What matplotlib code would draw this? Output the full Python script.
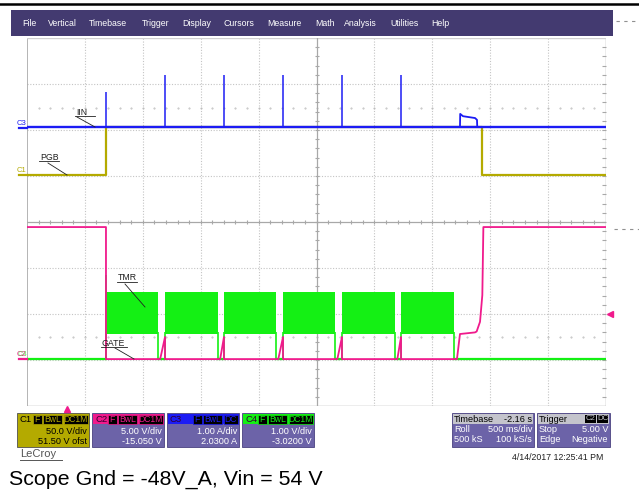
import numpy as np
import matplotlib.pyplot as plt
from matplotlib.patches import Rectangle

plt.rcParams['font.family'] = ['Liberation Sans', 'DejaVu Sans']

# ---------- trace data (time in s, level in screen divisions, 0 = bottom of grid) ----------
T_DIV = 0.5            # 500 ms/div
N_XDIV, N_YDIV = 10, 8

# C3 IIN (blue)
iin_base = 6.07
iin_spike_t = [0.682, 1.192, 1.701, 2.211, 2.720, 3.230]
iin_spike_top = [6.83, 7.20, 7.20, 7.20, 7.20, 7.20]
iin_bump_t = [3.739, 3.741, 3.765, 3.869, 3.886, 3.888]
iin_bump_v = [6.07, 6.35, 6.30, 6.26, 6.22, 6.07]

# C1 PGB (olive)
pgb_t = [0.0, 0.682, 0.682, 3.929, 3.929, 5.0]
pgb_v = [5.02, 5.02, 6.07, 6.07, 5.02, 5.02]

# C4 TMR (green) bursts
tmr_base = 1.02
tmr_on = [0.682, 1.192, 1.701, 2.211, 2.720, 3.230]
tmr_off = [1.131, 1.649, 2.150, 2.660, 3.178, 3.687]
tmr_lo, tmr_hi = 1.565, 2.48
tmr_kick = 2.85

# C2 GATE (pink)
gate_t = [0.0, 0.682, 0.682,
          1.150, 1.192, 1.192,
          1.668, 1.701, 1.701,
          2.170, 2.211, 2.211,
          2.680, 2.720, 2.720,
          3.198, 3.230, 3.230,
          3.713, 3.739, 3.869, 3.883, 3.912, 3.932, 3.941, 5.0]
gate_v = [3.89, 3.89, 1.02,
          1.02, 1.50, 1.02,
          1.02, 1.50, 1.02,
          1.02, 1.50, 1.02,
          1.02, 1.50, 1.02,
          1.02, 1.50, 1.02,
          1.02, 1.565, 1.60, 1.62, 1.83, 2.41, 3.89, 3.89]

# ---------- text content ----------
menu_items = ['File', 'Vertical', 'Timebase', 'Trigger', 'Display', 'Cursors',
              'Measure', 'Math', 'Analysis', 'Utilities', 'Help']
menu_x = [22, 48, 89, 142, 182, 224, 267, 315, 344, 390, 431]

ch_names = ['C1', 'C2', 'C3', 'C4']
ch_badges = [['F', 'BwL', 'DC1M'], ['F', 'BwL', 'DC1M'], ['F', 'BwL', 'DC'], ['F', 'BwL', 'DC1M']]
ch_scale = ['50.0 V/div', '5.00 V/div', '1.00 A/div', '1.00 V/div']
ch_offset = ['51.50 V ofst', '-15.050 V', '2.0300 A', '-3.0200 V']

C1_COL = '#b4aa00'
C2_COL = '#f01a8c'
C3_COL = '#1c1cf4'
C4_COL = '#14f014'
ch_cols = [C1_COL, C2_COL, C3_COL, C4_COL]
PURPLE = '#433a70'
BOXBG = '#6c63a8'

W, H = 639, 491
fig = plt.figure(figsize=(W / 100, H / 100), dpi=100)

# scope grid
GL, GT, GR, GB = 27, 38, 606, 406
ax = fig.add_axes([GL / W, 1 - GB / H, (GR - GL) / W, (GB - GT) / H])
ax.set_xlim(0, N_XDIV * T_DIV)
ax.set_ylim(0, N_YDIV)
ax.set_xticks([]); ax.set_yticks([])
for s in ax.spines.values():
    s.set_visible(False)

grid_kw = dict(color='#c4c4c4', lw=0.8, ls=(0, (1, 1.5)), zorder=0)
for i in range(1, N_XDIV):
    if i != N_XDIV // 2:
        ax.axvline(i * T_DIV, **grid_kw)
for j in range(1, N_YDIV):
    if j != 4:
        ax.axhline(j, **grid_kw)
# sparse dotted marks
for yy in (6.48, 1.5):
    ax.plot(np.arange(0.1, 5.0, 0.1), [yy] * 49, ls='none', marker='.', ms=0.9, color='#b8b8b8', zorder=0)

frame = '#a8a8a8'
ax.axvline(0, color=frame, lw=1.2, zorder=0)
ax.axvline(5.0, color=frame, lw=1.0, zorder=0)
ax.axhline(0, color=frame, lw=1.0, zorder=0)
ax.axhline(8, color='#d0d0d0', lw=1.0, zorder=0)
ax.axvline(2.5, color=frame, lw=0.9, zorder=0)
ax.axhline(4, color=frame, lw=0.9, zorder=0)
ax.plot(np.arange(0.1, 5.0, 0.1), [4] * 49, ls='none', marker='|', ms=3, mew=0.8, color=frame, zorder=0)
ax.plot([2.5] * 39, np.arange(0.2, 8.0, 0.2), ls='none', marker='_', ms=3, mew=0.8, color=frame, zorder=0)
ax.plot([4.985] * 39, np.arange(0.2, 8.0, 0.2), ls='none', marker='_', ms=3, mew=0.8, color=frame, zorder=0)

# TMR (green)
gx, gy = [0.0, tmr_on[0]], [tmr_base, tmr_base]
for off, on in zip(tmr_off[:-1], tmr_on[1:]):
    gx += [np.nan, off, on]
    gy += [np.nan, tmr_base, tmr_base]
gx += [np.nan, tmr_off[-1], 5.0]
gy += [np.nan, tmr_base, tmr_base]
ax.plot(gx, gy, color=C4_COL, lw=1.6, zorder=2)
for on, off in zip(tmr_on, tmr_off):
    ax.fill_between([on, off], tmr_lo, tmr_hi, color=C4_COL, lw=0, zorder=2)
    ax.vlines([on, off], tmr_base, tmr_lo + 0.05, color=C4_COL, lw=1.2, zorder=2)
ax.vlines(tmr_on[0], tmr_base, tmr_kick, color=C4_COL, lw=1.2, zorder=2)

# GATE (pink)
ax.plot(gate_t, gate_v, color=C2_COL, lw=1.3, zorder=3)

# PGB (olive) then IIN (blue)
ax.plot(pgb_t, pgb_v, color=C1_COL, lw=1.6, zorder=4)
ax.plot([0, 5.0], [iin_base, iin_base], color=C3_COL, lw=1.7, zorder=5)
ax.vlines(iin_spike_t, iin_base, iin_spike_top, color=C3_COL, lw=1.1, zorder=5)
ax.plot(iin_bump_t, iin_bump_v, color=C3_COL, lw=1.3, zorder=5)

# ---------- overlay in pixel units ----------
ov = fig.add_axes([0, 0, 1, 1])
ov.set_zorder(3)
ov.patch.set_alpha(0)
ov.set_xlim(0, W); ov.set_ylim(H, 0); ov.axis('off')

ov.plot([0, W], [4, 4], color='black', lw=1.8)
ov.plot([616, W], [21, 21], color='#909090', lw=0.8, ls=(0, (3, 4)))
ov.plot([614, W], [229, 229], color='#909090', lw=0.8, ls=(0, (3, 4)))

ov.add_patch(Rectangle((11, 10), 602, 26, color=PURPLE, lw=0))
for name, x in zip(menu_items, menu_x):
    ov.text(x, 23.5, name, color='white', fontsize=6.3, va='center', ha='left')

# channel tags on the left
ov.text(17, 123, 'C3', color=C3_COL, fontsize=5.5, va='center')
ov.plot([19, 27], [127.5, 127.5], color=C3_COL, lw=1.6)
ov.text(17, 170, 'C1', color=C1_COL, fontsize=5.5, va='center')
ov.plot([19, 27], [175, 175], color=C1_COL, lw=1.6)
ov.text(17, 354, 'C2', color=C2_COL, fontsize=5.5, va='center')
ov.text(17.5, 354, 'C4', color=C4_COL, fontsize=5.5, va='center', alpha=0.6)
ov.plot([19, 27], [359, 359], color=C2_COL, lw=1.6)

# trigger markers
ov.plot([67], [409], marker='^', ms=4, color=C2_COL, ls='none')
ov.plot([610], [314], marker='<', ms=5, color=C2_COL, ls='none')

# trace name labels with leaders
labels = [('IIN', 76, 112, 77, 117, 95, 127),
          ('PGB', 40, 157, 48, 163, 67, 175),
          ('TMR', 118, 278, 125, 284, 145, 307),
          ('GATE', 102, 343, 115, 348, 134, 359)]
for txt, tx, ty, x0, y0, x1, y1 in labels:
    ov.text(tx, ty, txt, fontsize=6.3, color='#202020', va='center', ha='left')
    ov.plot([tx - 1, tx + 6 * len(txt) + 1], [ty + 4, ty + 4], color='#202020', lw=0.6)
    ov.plot([x0, x1], [y0, y1], color='#202020', lw=0.6)

# channel boxes
box_x = [17, 92, 167, 242]
BW, BT, BH = 72, 413, 34
for k in range(4):
    x = box_x[k]
    col = ch_cols[k]
    ov.add_patch(Rectangle((x, BT), BW, BH, facecolor=C1_COL if k == 0 else BOXBG,
                           edgecolor='#505050' if k == 0 else '#4a4280', lw=0.6))
    txtcol = 'black' if k == 0 else 'white'
    if k > 0:
        ov.add_patch(Rectangle((x + 0.5, BT + 0.5), BW - 1, 10.5, color=col, lw=0))
    ov.text(x + 3, BT + 6, ch_names[k], fontsize=6.8, color='black' if k == 0 else '#300030',
            va='center', ha='left')
    # badges from the right
    bx = x + BW - 1.5
    for b in reversed(ch_badges[k]):
        bw = 5.0 * len(b) + 4
        ov.add_patch(Rectangle((bx - bw, BT + 1.5), bw, 9, facecolor='black', edgecolor=col, lw=0.5))
        ov.text(bx - bw / 2, BT + 6.2, b, fontsize=6.2, color=col, va='center', ha='center')
        bx -= bw + 1.5
    ov.text(x + BW - 2, BT + 19, ch_scale[k], fontsize=6.6, color=txtcol, va='center', ha='right')
    ov.text(x + BW - 2, BT + 29, ch_offset[k], fontsize=6.6, color=txtcol, va='center', ha='right')

# timebase / trigger boxes
tb_rows = [('Timebase', '-2.16 s'), ('Roll', '500 ms/div'), ('500 kS', '100 kS/s')]
tr_rows = [('Trigger', ''), ('Stop', '5.00 V'), ('Edge', 'Negative')]
for x0, w, rows in ((452, 82, tb_rows), (537, 73, tr_rows)):
    ov.add_patch(Rectangle((x0, BT), w, BH, facecolor=BOXBG, edgecolor='#4a4280', lw=0.6))
    ov.add_patch(Rectangle((x0 + 1, BT + 1), w - 2, 9.5, color='#c4c4cc', lw=0))
    for r, (lt, rt) in enumerate(rows):
        c = 'black' if r == 0 else 'white'
        yy = BT + 6 + r * 10.5
        ov.text(x0 + 2, yy, lt, fontsize=6.6, color=c, va='center', ha='left')
        if rt:
            ov.text(x0 + w - 2, yy, rt, fontsize=6.6, color=c, va='center', ha='right')
bx = 537 + 73 - 2
for b in ('DC', 'C2'):
    bw = 11
    ov.add_patch(Rectangle((bx - bw, BT + 2), bw, 8, facecolor='black', lw=0))
    ov.text(bx - bw / 2, BT + 6, b, fontsize=5.6, color='#c4c4cc', va='center', ha='center')
    bx -= bw + 1

ov.text(603, 458, '4/14/2017 12:25:41 PM', fontsize=6.3, color='#202020', va='center', ha='right')
ov.text(20, 454, 'LeCroy', fontsize=8, color='#555555', va='center', ha='left')
ov.plot([20, 62], [460, 460], color='#555555', lw=0.7)

ov.text(9, 479, 'Scope Gnd = -48V_A, Vin = 54 V', fontsize=15.4, color='black', va='center', ha='left')

fig.savefig('out.png', dpi=100)
